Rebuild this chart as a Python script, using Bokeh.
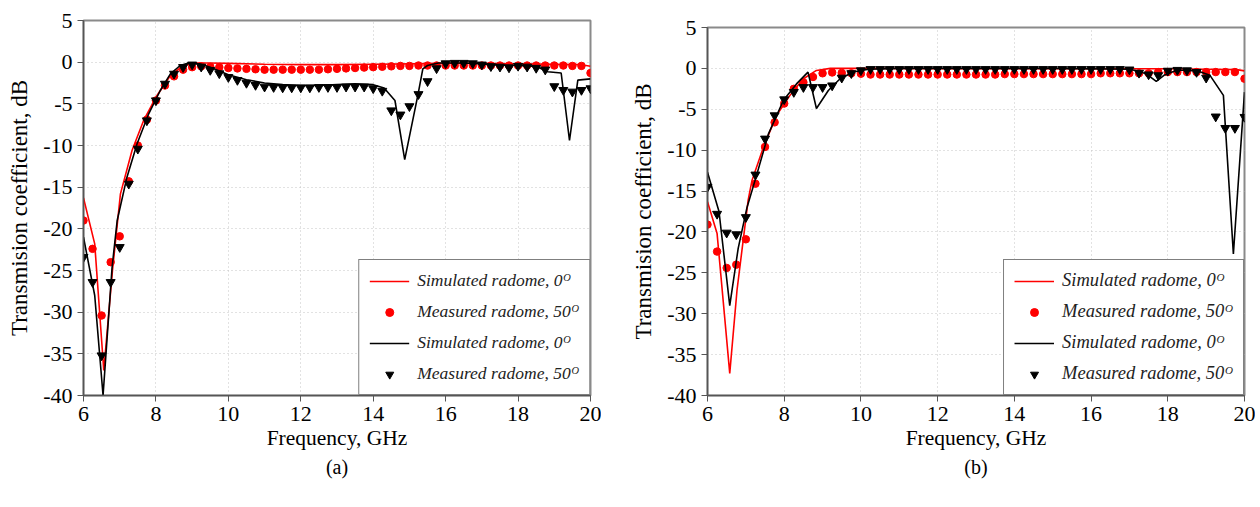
from bokeh.plotting import figure
from bokeh.layouts import row, column
from bokeh.models import FixedTicker, Title, Legend, LegendItem, Spacer
from bokeh.embed import file_html
from bokeh.resources import INLINE

# Frequency grid for measured points (GHz)
f_meas = [6.0, 6.25, 6.5, 6.75, 7.0, 7.25, 7.5, 7.75, 8.0, 8.25, 8.5, 8.75, 9.0, 9.25,
          9.5, 9.75, 10.0, 10.25, 10.5, 10.75, 11.0, 11.25, 11.5, 11.75, 12.0, 12.25,
          12.5, 12.75, 13.0, 13.25, 13.5, 13.75, 14.0, 14.25, 14.5, 14.75, 15.0, 15.25,
          15.5, 15.75, 16.0, 16.25, 16.5, 16.75, 17.0, 17.25, 17.5, 17.75, 18.0, 18.25,
          18.5, 18.75, 19.0, 19.25, 19.5, 19.75, 20.0]

# ---------------- Panel (a) ----------------
a_sim_red_f = [6.0, 6.31, 6.56, 6.8, 7.02, 7.34, 7.66, 8.03, 8.4, 8.76, 9.1, 9.5, 10, 11, 12,
               13, 14, 15, 16, 17, 18, 19, 19.75, 20]
a_sim_red_db = [-16.3, -21.8, -37.0, -25.0, -15.8, -10.6, -7.0, -4.0, -1.6, -0.4, -0.1, -0.1,
                -0.15, -0.25, -0.3, -0.3, -0.25, -0.2, -0.15, -0.15, -0.2, -0.25, -0.3, -0.5]
a_meas_red_db = [-19.0, -22.4, -30.4, -24.0, -20.9, -14.3, -10.0, -6.9, -4.6, -2.8, -1.7, -0.9,
                 -0.6, -0.5, -0.55, -0.6, -0.7, -0.75, -0.8, -0.85, -0.9, -0.9, -0.9, -0.9,
                 -0.9, -0.9, -0.9, -0.85, -0.8, -0.75, -0.7, -0.65, -0.6, -0.55, -0.5, -0.45,
                 -0.45, -0.4, -0.4, -0.4, -0.4, -0.4, -0.4, -0.4, -0.4, -0.4, -0.4, -0.4,
                 -0.4, -0.4, -0.4, -0.4, -0.4, -0.4, -0.45, -0.45, -1.3]
a_sim_blk_f = [6.0, 6.31, 6.54, 6.79, 6.93, 7.2, 7.48, 7.8, 8.12, 8.4, 8.67, 8.9, 9.2, 9.5, 10,
               10.5, 11, 11.5, 12, 12.5, 13, 13.5, 14, 14.3, 14.6, 14.87, 15.24, 15.37, 15.5,
               15.8, 16.5, 17, 17.5, 18, 18.5, 18.82, 19.19, 19.42, 19.65, 20]
a_sim_blk_db = [-21.0, -28.0, -40.0, -24.6, -19.0, -13.8, -9.8, -6.2, -3.4, -1.4, -0.4, -0.1,
                -0.2, -0.6, -1.5, -2.1, -2.5, -2.7, -2.8, -2.8, -2.7, -2.6, -2.7, -3.1, -4.6,
                -11.7, -3.8, -0.8, -0.4, -0.1, -0.1, -0.2, -0.35, -0.4, -0.5, -1.15, -1.3,
                -9.4, -2.15, -2.0]
a_meas_blk_db = [-23.4, -26.4, -35.2, -26.4, -22.2, -14.6, -10.4, -7.0, -4.6, -2.6, -1.4, -0.6,
                 -0.3, -0.55, -0.95, -1.35, -1.8, -2.15, -2.5, -2.75, -2.95, -3.0, -3.05,
                 -3.05, -3.05, -3.05, -3.0, -3.0, -3.0, -2.95, -2.95, -2.95, -3.15, -3.45,
                 -5.8, -6.3, -5.3, -3.85, -2.3, -0.75, -0.15, -0.1, -0.1, -0.15, -0.3, -0.5,
                 -0.55, -0.65, -0.45, -0.55, -0.7, -0.9, -2.9, -3.35, -3.55, -3.35, -3.15]

# ---------------- Panel (b) ----------------
b_sim_red_f = [6.0, 6.25, 6.58, 6.77, 7.06, 7.16, 7.46, 7.8, 8.15, 8.49, 8.84, 9.2, 10, 12, 14,
               16, 18, 19, 19.8, 20]
b_sim_red_db = [-16.3, -20.2, -37.3, -27.1, -16.1, -13.7, -9.6, -5.75, -3.3, -1.3, -0.25, 0.0,
                0.0, -0.05, -0.05, -0.05, -0.05, -0.1, -0.15, -0.3]
b_meas_red_db = [-19.1, -22.4, -24.4, -24.0, -20.9, -14.1, -9.6, -6.6, -4.3, -2.5, -1.7, -1.05,
                 -0.6, -0.5, -0.55, -0.6, -0.65, -0.75, -0.75, -0.75, -0.75, -0.75, -0.75,
                 -0.75, -0.75, -0.75, -0.75, -0.75, -0.75, -0.75, -0.75, -0.7, -0.7, -0.7,
                 -0.7, -0.7, -0.7, -0.7, -0.7, -0.7, -0.7, -0.6, -0.6, -0.6, -0.6, -0.6, -0.6,
                 -0.45, -0.45, -0.45, -0.45, -0.45, -0.45, -0.45, -0.45, -0.45, -1.26]
b_sim_blk_f = [6.0, 6.3, 6.58, 6.8, 7.03, 7.29, 7.59, 7.98, 8.32, 8.62, 8.84, 9.15, 9.45, 9.8,
               10.2, 11, 13, 15, 17, 17.3, 17.49, 17.7, 17.9, 18.25, 18.76, 19.1, 19.45, 19.71,
               20]
b_sim_blk_db = [-12.7, -17.5, -29.0, -22.0, -17.0, -12.9, -8.0, -3.9, -1.9, -0.45, -4.9, -2.7,
                -1.3, -0.45, -0.1, 0.0, 0.0, 0.0, -0.1, -0.4, -0.85, -1.6, -0.85, -0.2, -0.3,
                -0.85, -3.3, -22.7, -2.9]
b_meas_blk_db = [-14.5, -17.8, -20.1, -20.3, -18.2, -13.0, -8.6, -5.75, -3.8, -2.9, -2.3, -2.3,
                 -2.3, -2.1, -1.15, -0.6, -0.25, -0.1, -0.1, -0.1, -0.1, -0.1, -0.1, -0.1,
                 -0.1, -0.1, -0.1, -0.1, -0.1, -0.1, -0.1, -0.1, -0.1, -0.1, -0.1, -0.1, -0.1,
                 -0.1, -0.1, -0.1, -0.1, -0.1, -0.1, -0.1, -0.15, -0.55, -0.75, -0.85, -0.3,
                 -0.2, -0.25, -0.45, -1.15, -5.9, -7.3, -7.3, -5.95]

x_ticks = [6, 8, 10, 12, 14, 16, 18, 20]
y_ticks = [-40, -35, -30, -25, -20, -15, -10, -5, 0, 5]
x_label = "Frequency, GHz"
y_label = "Transmision coefficient, dB"
legend_labels = ["Simulated radome, 0ᴼ", "Measured radome, 50ᴼ",
                 "Simulated radome, 0ᴼ", "Measured radome, 50ᴼ"]

SERIF = "Liberation Serif"
BL, BR, BT, BB = 82, 11, 12, 100


def make_panel(tag, fw, fh, sr_f, sr_db, mr_db, sb_f, sb_db, mb_db, leg_font, leg_pad):
    p = figure(frame_width=fw, frame_height=fh, x_range=(6, 20), y_range=(-40, 5),
               output_backend="svg", toolbar_location=None,
               min_border_left=BL, min_border_right=BR, min_border_top=BT,
               min_border_bottom=BB)
    p.background_fill_color = "white"
    p.border_fill_color = "white"
    p.outline_line_color = "#8a8a8a"
    p.outline_line_width = 2

    r1 = p.line(sr_f, sr_db, line_color="red", line_width=1.6)
    r2 = p.scatter(f_meas, mr_db, marker="circle", size=7.5, fill_color="red",
                   line_color="red")
    r3 = p.line(sb_f, sb_db, line_color="black", line_width=1.6)
    r4 = p.scatter(f_meas, mb_db, marker="inverted_triangle", size=9,
                   fill_color="black", line_color="black")

    for ax, ticks in ((p.xaxis[0], x_ticks), (p.yaxis[0], y_ticks)):
        ax.ticker = FixedTicker(ticks=ticks)
        ax.major_label_overrides = {t: str(t) for t in ticks}
        ax.axis_line_color = "#555555"
        ax.axis_line_width = 1.5
        ax.major_tick_line_color = "#555555"
        ax.major_tick_out = 6
        ax.major_tick_in = 0
        ax.minor_tick_line_color = None
        ax.major_label_text_font = SERIF
        ax.major_label_text_font_size = "22px"
        ax.major_label_text_color = "black"
        ax.axis_label_text_font = SERIF
        ax.axis_label_text_font_style = "normal"
        ax.axis_label_text_color = "black"
    p.xaxis.axis_label = x_label
    p.yaxis.axis_label = y_label
    p.xaxis.axis_label_text_font_size = "21.5px"
    p.yaxis.axis_label_text_font_size = "23px"
    p.xaxis.major_label_standoff = 5
    p.xaxis.axis_label_standoff = 2
    p.yaxis.major_label_standoff = 5
    p.yaxis.axis_label_standoff = 8

    for g in (p.xgrid[0], p.ygrid[0]):
        g.ticker = FixedTicker(ticks=x_ticks if g is p.xgrid[0] else y_ticks)
        g.grid_line_color = "#c4c4c4"
        g.grid_line_dash = "1 3"
        g.grid_line_width = 1

    legend = Legend(items=[LegendItem(label=legend_labels[0], renderers=[r1]),
                           LegendItem(label=legend_labels[1], renderers=[r2]),
                           LegendItem(label=legend_labels[2], renderers=[r3]),
                           LegendItem(label=legend_labels[3], renderers=[r4])],
                    location="bottom_right")
    legend.margin = 0
    legend.padding = leg_pad
    legend.spacing = 10
    legend.glyph_width = 40
    legend.glyph_height = 20
    legend.label_height = 20
    legend.label_standoff = 8
    legend.label_text_font = SERIF
    legend.label_text_font_style = "italic"
    legend.label_text_font_size = leg_font
    legend.label_text_color = "#222222"
    legend.border_line_color = "black"
    legend.border_line_width = 1.2
    legend.background_fill_color = "white"
    legend.background_fill_alpha = 1.0
    p.add_layout(legend, "center")

    p.add_layout(Title(text=tag, align="center", text_font=SERIF, text_font_size="20px",
                       text_font_style="normal", text_color="black", offset=0,
                       standoff=2), "below")
    return p


pa = make_panel("(a)", 507, 375, a_sim_red_f, a_sim_red_db, a_meas_red_db,
                a_sim_blk_f, a_sim_blk_db, a_meas_blk_db, "17.5px", 10)
pb = make_panel("(b)", 537, 368, b_sim_red_f, b_sim_red_db, b_meas_red_db,
                b_sim_blk_f, b_sim_blk_db, b_meas_blk_db, "18.5px", 10)

layout = row(Spacer(width=1, height=10),
             column(Spacer(width=10, height=8), pa),
             Spacer(width=24, height=10),
             column(Spacer(width=10, height=15), pb))
open("out.html", "w").write(file_html(layout, INLINE))
